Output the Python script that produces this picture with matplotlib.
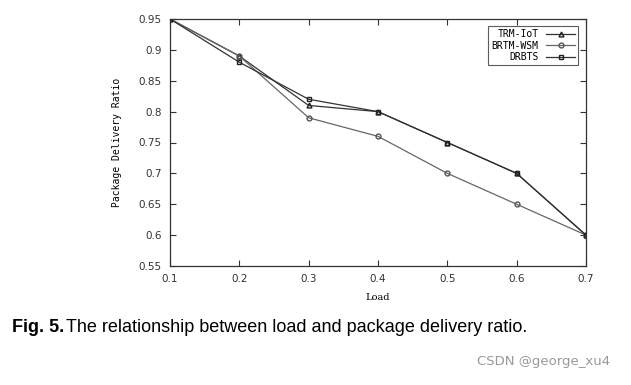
import numpy as np
import matplotlib.pyplot as plt

load = [0.1, 0.2, 0.3, 0.4, 0.5, 0.6, 0.7]
trm_iot = [0.95, 0.89, 0.81, 0.80, 0.75, 0.70, 0.60]
brtm_wsm = [0.95, 0.89, 0.79, 0.76, 0.70, 0.65, 0.60]
drbts = [0.95, 0.88, 0.82, 0.80, 0.75, 0.70, 0.60]
yticks = [0.55, 0.6, 0.65, 0.7, 0.75, 0.8, 0.85, 0.9, 0.95]
ylabels = ['0.55', '0.6', '0.65', '0.7', '0.75', '0.8', '0.85', '0.9', '0.95']

fig = plt.figure(figsize=(6.31, 3.85), dpi=100)
ax = fig.add_axes([170 / 631, 1 - 266 / 385, 416 / 631, 247 / 385])

ax.plot(load, trm_iot, color='#333333', lw=0.9, marker='^', ms=3.5,
        mfc='none', mec='#222222', label='TRM-IoT')
ax.plot(load, brtm_wsm, color='#666666', lw=0.9, marker='o', ms=3.5,
        mfc='none', mec='#555555', label='BRTM-WSM')
ax.plot(load, drbts, color='#333333', lw=0.9, marker='s', ms=3.5,
        mfc='none', mec='#222222', label='DRBTS')

ax.set_xlim(0.1, 0.7)
ax.set_ylim(0.55, 0.95)
ax.set_xticks(load)
ax.set_xticklabels([str(v) for v in load])
ax.set_yticks(yticks)
ax.set_yticklabels(ylabels)
ax.tick_params(direction='in', top=True, right=True, length=4, width=0.8,
               labelsize=7.5, colors='#333333', pad=6)
for s in ax.spines.values():
    s.set_linewidth(0.9)
    s.set_color('#333333')

ax.set_xlabel('Load', fontsize=7, family='DejaVu Serif', labelpad=6)
ax.set_ylabel('Package Delivery Ratio', fontsize=7, family='DejaVu Sans Mono',
              labelpad=12)

leg = ax.legend(loc='upper right', markerfirst=False,
                frameon=True, fancybox=False, edgecolor='#333333',
                handlelength=3.0, borderpad=0.3, labelspacing=0.15,
                prop={'family': 'DejaVu Sans Mono', 'size': 7},
                bbox_to_anchor=(0.993, 0.99))
leg.get_frame().set_linewidth(0.8)

fig.text(12 / 631, 1 - 327 / 385, 'Fig. 5.', fontsize=13, weight='bold',
         family='Liberation Sans', va='center')
fig.text(66 / 631, 1 - 327 / 385, 'The relationship between load and package delivery ratio.',
         fontsize=13, family='Liberation Sans', va='center')
fig.text(610 / 631, 1 - 362 / 385, 'CSDN @george_xu4', fontsize=9.5,
         color='#999999', ha='right', va='center')

fig.savefig('out.png', dpi=100)
